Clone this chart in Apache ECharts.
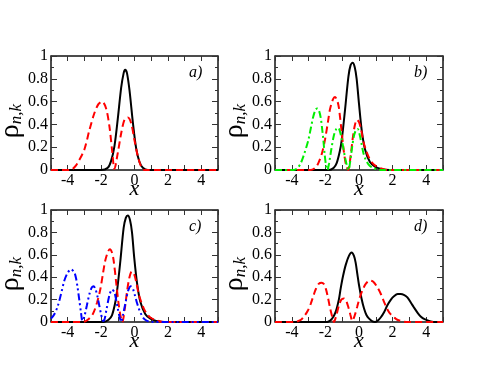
<!DOCTYPE html>
<html>
<head>
<meta charset="utf-8">
<script src="https://cdn.jsdelivr.net/npm/echarts@6/dist/echarts.min.js"></script>
<style>
  html, body { margin: 0; padding: 0; background: #fff; }
  #chart { width: 491px; height: 379px; }
</style>
</head>
<body>
<div id="chart"></div>
<script>
// x range and ticks
const xMin = -5, xMax = 5;
const xLabels = [-4, -2, 0, 2, 4];

// panel a)
const aBlack = [[-5,0],[-2.0,0],[-1.6,0.02],[-1.4,0.08],[-1.2,0.21],[-1.0,0.45],[-0.8,0.72],[-0.65,0.85],[-0.56,0.88],[-0.45,0.85],[-0.3,0.70],[-0.1,0.42],[0.1,0.19],[0.3,0.07],[0.5,0.02],[0.8,0],[5,0]];
const aRed = [[-5,0],[-3.9,0],[-3.7,0.01],[-3.5,0.04],[-3.3,0.09],[-3.0,0.18],[-2.7,0.35],[-2.4,0.50],[-2.15,0.58],[-1.94,0.60],[-1.7,0.54],[-1.5,0.38],[-1.34,0.17],[-1.2,0.01],[-1.0,0.15],[-0.8,0.32],[-0.6,0.44],[-0.4,0.46],[-0.2,0.41],[0,0.26],[0.2,0.12],[0.4,0.03],[0.6,0],[5,0]];

// panel b)
const bBlack = [[-5,0],[-1.8,0],[-1.5,0.02],[-1.33,0.06],[-1.15,0.16],[-1.03,0.26],[-0.83,0.53],[-0.63,0.82],[-0.5,0.92],[-0.38,0.94],[-0.25,0.90],[-0.14,0.80],[0.0,0.58],[0.16,0.35],[0.36,0.18],[0.65,0.07],[0.95,0.03],[1.3,0.01],[1.8,0],[5,0]];
const bRed = [[-5,0],[-2.9,0],[-2.6,0.02],[-2.42,0.06],[-2.2,0.15],[-2.02,0.27],[-1.85,0.42],[-1.73,0.53],[-1.55,0.62],[-1.43,0.64],[-1.3,0.61],[-1.2,0.55],[-1.03,0.33],[-0.9,0.16],[-0.78,0.05],[-0.65,0],[-0.5,0.12],[-0.38,0.27],[-0.25,0.39],[-0.12,0.44],[0.0,0.42],[0.12,0.36],[0.26,0.25],[0.4,0.18],[0.56,0.12],[0.75,0.07],[0.95,0.04],[1.3,0.015],[1.7,0],[5,0]];
const bGreen = [[-5,0],[-3.9,0],[-3.71,0.01],[-3.5,0.05],[-3.31,0.12],[-3.02,0.26],[-2.85,0.38],[-2.72,0.47],[-2.58,0.53],[-2.48,0.54],[-2.38,0.52],[-2.28,0.46],[-2.2,0.37],[-2.12,0.26],[-2.04,0.13],[-1.96,0.04],[-1.88,0],[-1.78,0.06],[-1.65,0.18],[-1.5,0.30],[-1.35,0.36],[-1.23,0.37],[-1.12,0.33],[-1.03,0.27],[-0.93,0.19],[-0.83,0.11],[-0.72,0.04],[-0.62,0],[-0.52,0.08],[-0.42,0.19],[-0.3,0.30],[-0.18,0.35],[-0.08,0.36],[0.04,0.31],[0.15,0.23],[0.26,0.15],[0.4,0.09],[0.56,0.05],[0.8,0.02],[1.1,0.005],[1.4,0],[5,0]];

// panel c)
const cBlack = [[-5,0],[-1.85,0],[-1.55,0.02],[-1.35,0.06],[-1.17,0.16],[-1.05,0.27],[-0.85,0.54],[-0.65,0.84],[-0.52,0.93],[-0.40,0.95],[-0.27,0.91],[-0.15,0.80],[-0.02,0.58],[0.15,0.35],[0.35,0.18],[0.65,0.07],[0.95,0.03],[1.3,0.01],[1.8,0],[5,0]];
const cRed = [[-5,0],[-3.1,0],[-2.8,0.02],[-2.5,0.07],[-2.25,0.17],[-2.05,0.29],[-1.88,0.44],[-1.75,0.55],[-1.58,0.63],[-1.47,0.65],[-1.35,0.62],[-1.25,0.55],[-1.08,0.33],[-0.95,0.16],[-0.83,0.05],[-0.73,0],[-0.58,0.12],[-0.45,0.27],[-0.3,0.40],[-0.16,0.45],[-0.03,0.43],[0.1,0.36],[0.25,0.25],[0.4,0.18],[0.56,0.12],[0.75,0.07],[0.95,0.04],[1.3,0.015],[1.7,0],[5,0]];
const cBlue = [[-5,0.03],[-4.8,0.07],[-4.6,0.14],[-4.4,0.25],[-4.2,0.37],[-4.0,0.44],[-3.8,0.47],[-3.6,0.44],[-3.5,0.39],[-3.4,0.30],[-3.3,0.19],[-3.2,0.08],[-3.12,0.01],[-3.0,0.05],[-2.85,0.15],[-2.68,0.26],[-2.55,0.31],[-2.45,0.32],[-2.33,0.29],[-2.22,0.23],[-2.1,0.14],[-2.0,0.07],[-1.88,0.01],[-1.8,0.02],[-1.68,0.11],[-1.5,0.24],[-1.35,0.29],[-1.22,0.27],[-1.1,0.20],[-1.0,0.12],[-0.9,0.05],[-0.8,0],[-0.68,0.07],[-0.54,0.17],[-0.38,0.28],[-0.22,0.32],[-0.08,0.29],[0.04,0.23],[0.15,0.17],[0.26,0.12],[0.4,0.07],[0.56,0.03],[0.75,0.01],[1.0,0],[5,0]];

// panel d)
const dBlack = [[-5,0],[-1.9,0],[-1.6,0.03],[-1.39,0.09],[-1.2,0.20],[-1.09,0.30],[-0.95,0.41],[-0.79,0.51],[-0.6,0.59],[-0.44,0.62],[-0.3,0.59],[-0.2,0.53],[-0.1,0.43],[0.0,0.33],[0.15,0.21],[0.3,0.12],[0.45,0.06],[0.6,0.03],[0.8,0.005],[0.95,0],[1.1,0.01],[1.29,0.04],[1.5,0.09],[1.69,0.15],[1.9,0.20],[2.08,0.23],[2.3,0.25],[2.48,0.25],[2.7,0.24],[2.88,0.22],[3.1,0.17],[3.27,0.13],[3.5,0.08],[3.67,0.05],[3.9,0.025],[4.27,0.005],[4.6,0],[5,0]];
const dRed = [[-5,0],[-3.8,0],[-3.67,0.005],[-3.45,0.02],[-3.27,0.05],[-3.05,0.10],[-2.88,0.16],[-2.7,0.24],[-2.58,0.29],[-2.4,0.34],[-2.22,0.35],[-2.1,0.34],[-1.98,0.30],[-1.85,0.22],[-1.73,0.13],[-1.6,0.05],[-1.49,0],[-1.35,0.06],[-1.19,0.15],[-1.05,0.20],[-0.9,0.21],[-0.77,0.19],[-0.65,0.14],[-0.52,0.07],[-0.4,0.01],[-0.25,0.06],[-0.1,0.14],[0.05,0.22],[0.2,0.28],[0.4,0.34],[0.65,0.37],[0.85,0.36],[1.09,0.31],[1.3,0.25],[1.49,0.18],[1.7,0.11],[1.88,0.07],[2.1,0.04],[2.28,0.02],[2.6,0.005],[2.9,0],[5,0]];

const panels = [
  { label: 'a)', grid: { left: 51, top: 56, width: 167, height: 114 }, lines: [[aBlack, 'black'], [aRed, 'red']] },
  { label: 'b)', grid: { left: 275, top: 56, width: 168, height: 114 }, lines: [[bBlack, 'black'], [bRed, 'red'], [bGreen, 'green']] },
  { label: 'c)', grid: { left: 51, top: 210, width: 167, height: 112 }, lines: [[cBlack, 'black'], [cRed, 'red'], [cBlue, 'blue']] },
  { label: 'd)', grid: { left: 275, top: 210, width: 168, height: 112 }, lines: [[dBlack, 'black'], [dRed, 'red']] }
];

const serif = '"Liberation Serif", "DejaVu Serif", serif';
const axisColor = '#333';
const styles = {
  black: { color: '#000000', type: 'solid' },
  red: { color: '#ff0000', type: [7, 4] },
  green: { color: '#00ee00', type: [7, 3, 2, 3] },
  blue: { color: '#0000ff', type: [7, 3, 2, 3, 2, 3] }
};

let grids = [], xAxes = [], yAxes = [], series = [], graphics = [];

panels.forEach((p, i) => {
  let g = p.grid;
  grids.push({ show: true, borderColor: axisColor, borderWidth: 1, left: g.left, top: g.top, width: g.width, height: g.height });
  let xi = xAxes.length, yi = yAxes.length;
  ['bottom', 'top'].forEach(pos => {
    xAxes.push({
      type: 'value', gridIndex: i, position: pos, min: xMin, max: xMax, interval: 1,
      axisLine: { show: true, onZero: false, lineStyle: { color: axisColor, width: 1.5 } },
      axisTick: { show: true, inside: true, length: 5, lineStyle: { color: axisColor, width: 1 } },
      axisLabel: pos == 'bottom'
        ? { show: true, customValues: xLabels, margin: 3, fontFamily: serif, fontSize: 16, color: '#000' }
        : { show: false },
      splitLine: { show: false }
    });
  });
  ['left', 'right'].forEach(pos => {
    yAxes.push({
      type: 'value', gridIndex: i, position: pos, min: 0, max: 1, interval: 0.2,
      axisLine: { show: true, onZero: false, lineStyle: { color: axisColor, width: 1.5 } },
      axisTick: { show: true, inside: true, length: 6, lineStyle: { color: axisColor, width: 1 } },
      minorTick: { show: true, splitNumber: 2, length: 3, lineStyle: { color: axisColor, width: 1 } },
      axisLabel: pos == 'left'
        ? { show: true, margin: 3, fontFamily: serif, fontSize: 16, color: '#000' }
        : { show: false },
      splitLine: { show: false }
    });
  });
  p.lines.forEach(([data, kind]) => {
    series.push({
      type: 'line', xAxisIndex: xi, yAxisIndex: yi, data: data,
      smooth: 0.3, showSymbol: false, clip: true,
      lineStyle: { color: styles[kind].color, type: styles[kind].type, width: 2 }
    });
  });
  // panel tag, x title, y title
  graphics.push({
    type: 'text', left: g.left + g.width - 29, top: g.top + 9,
    style: { text: p.label, font: 'italic 16px ' + serif, fill: '#000' }
  });
  graphics.push({
    type: 'text', x: g.left + g.width / 2, y: g.top + g.height + 19,
    style: { text: 'x', font: 'italic 22px ' + serif, fill: '#000', align: 'center', verticalAlign: 'middle' }
  });
  graphics.push({
    type: 'text', x: g.left - 40, y: g.top + g.height / 2 + 8, rotation: Math.PI / 2,
    style: {
      text: '{r|ρ}{s|n,k}', fill: '#000', align: 'center', verticalAlign: 'middle',
      rich: {
        r: { font: '28px ' + serif, fill: '#000', lineHeight: 28, verticalAlign: 'top' },
        s: { font: 'italic 17px ' + serif, fill: '#000', lineHeight: 17, verticalAlign: 'bottom' }
      }
    }
  });
});

const chart = echarts.init(document.getElementById('chart'));
chart.setOption({
  animation: false,
  grid: grids,
  xAxis: xAxes,
  yAxis: yAxes,
  series: series,
  graphic: graphics
});
</script>
</body>
</html>
